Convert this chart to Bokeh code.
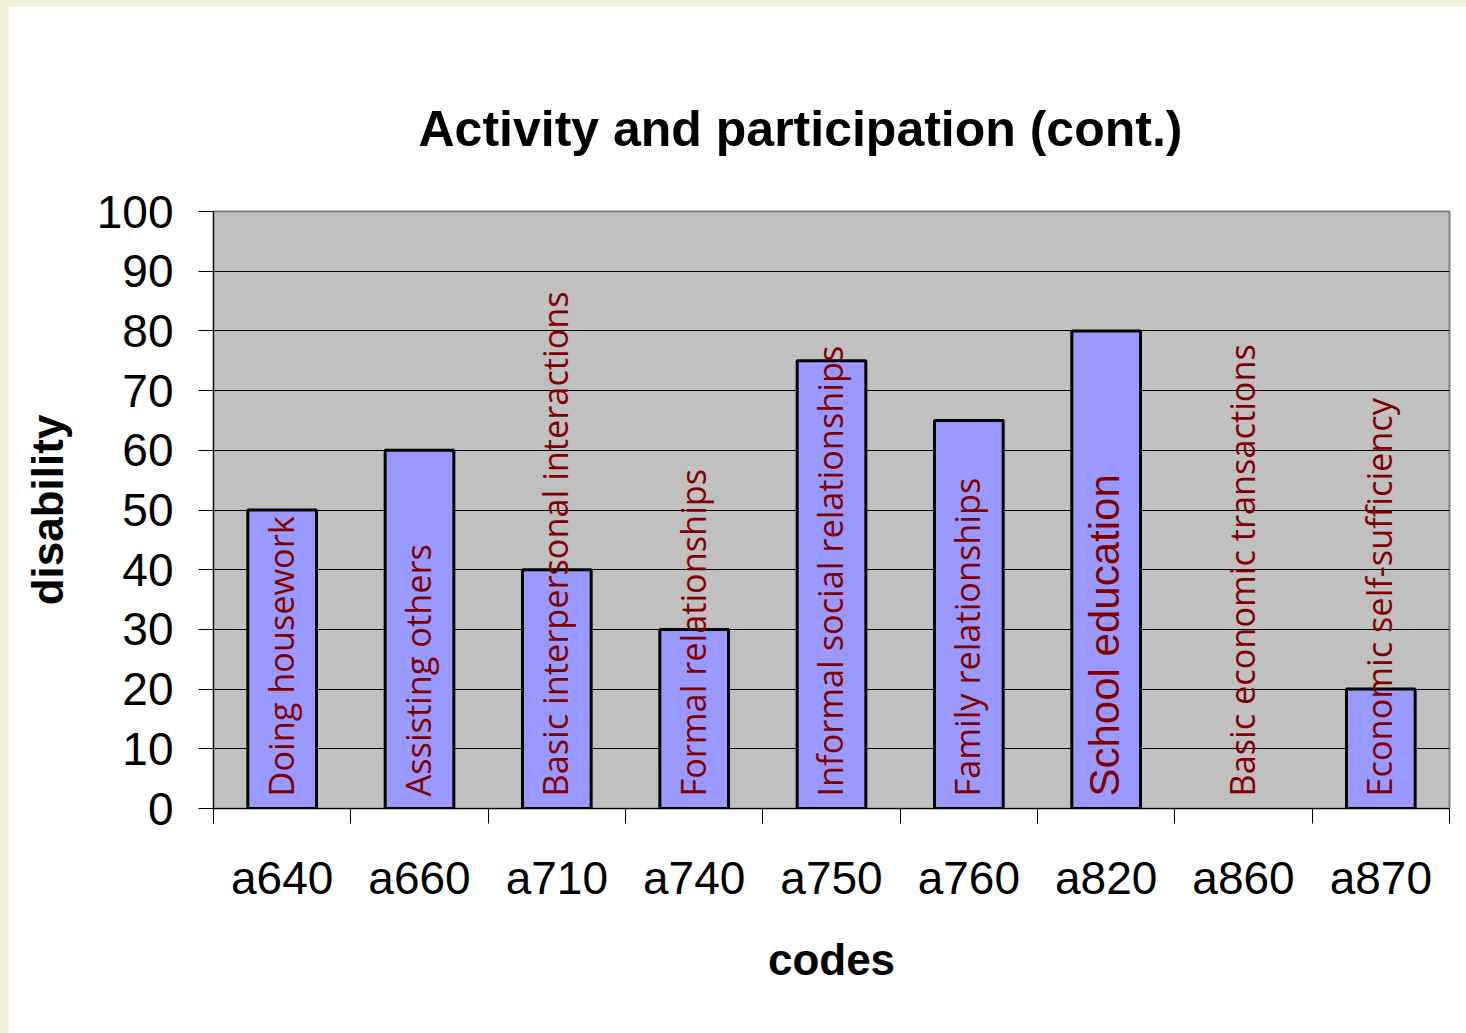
import math
from bokeh.plotting import figure
from bokeh.models import (ColumnDataSource, FixedTicker, Range1d,
                          Title, LinearAxis)
from bokeh.embed import file_html
from bokeh.resources import INLINE
from bokeh.core.properties import value
from jinja2 import Template

# ---- data ----
codes = ["a640", "a660", "a710", "a740", "a750", "a760", "a820", "a860", "a870"]
disability = [50, 60, 40, 30, 75, 65, 80, 0, 20]
descriptions = ["Doing housework", "Assisting others",
                "Basic interpersonal interactions", "Formal relationships",
                "Informal social relationships", "Family relationships",
                "School education", "Basic economic transactions",
                "Economic self-sufficiency"]
y_ticks = [0, 10, 20, 30, 40, 50, 60, 70, 80, 90, 100]

AXIS_FONT = "Liberation Sans"

n = len(codes)
centers = [i + 0.5 for i in range(n)]        # category centres on the numeric scale
bounds = [float(i) for i in range(n + 1)]     # category boundaries

p = figure(width=1458, height=1027,
           x_range=Range1d(0, n), y_range=Range1d(0, 100),
           x_axis_location=None, y_axis_location=None,
           output_backend="svg", toolbar_location=None,
           min_border_left=205, min_border_right=17,
           min_border_top=205, min_border_bottom=225)
p.background_fill_color = "#C0C0C0"
p.border_fill_color = "white"
p.outline_line_color = "#808080"
p.outline_line_width = 2

# title
p.add_layout(Title(text="Activity and participation (cont.)", align="left",
                   offset=205, text_font=AXIS_FONT, text_font_size="50px",
                   text_font_style="bold", text_color="black", standoff=109),
             "above")

# y axis
yax = LinearAxis(ticker=FixedTicker(ticks=y_ticks, minor_ticks=[]))
yax.axis_label = "disability"
yax.axis_label_text_font = AXIS_FONT
yax.axis_label_text_font_size = "44px"
yax.axis_label_text_font_style = "bold"
yax.axis_label_text_color = "black"
yax.axis_label_standoff = 22
yax.major_label_text_font = AXIS_FONT
yax.major_label_text_font_size = "46px"
yax.major_label_text_color = "black"
yax.major_label_standoff = 25
yax.major_tick_out = 15
yax.major_tick_in = 0
yax.major_tick_line_color = "black"
yax.minor_tick_line_color = None
yax.axis_line_color = "black"
p.add_layout(yax, "left")

# x axis: labels at category centres, tick marks at category boundaries
xax = LinearAxis(ticker=FixedTicker(ticks=centers, minor_ticks=bounds))
xax.major_label_overrides = {c: code for c, code in zip(centers, codes)}
xax.major_tick_out = 0
xax.major_tick_in = 0
xax.major_tick_line_color = None
xax.minor_tick_out = 15
xax.minor_tick_in = 0
xax.minor_tick_line_color = "black"
xax.minor_tick_line_width = 1
xax.axis_line_color = "black"
xax.major_label_text_font = AXIS_FONT
xax.major_label_text_font_size = "46px"
xax.major_label_text_color = "black"
xax.major_label_standoff = 28
xax.axis_label = "codes"
xax.axis_label_text_font = AXIS_FONT
xax.axis_label_text_font_size = "44px"
xax.axis_label_text_font_style = "bold"
xax.axis_label_text_color = "black"
xax.axis_label_standoff = 28
p.add_layout(xax, "below")

p.xgrid.visible = False
p.ygrid.ticker = FixedTicker(ticks=y_ticks, minor_ticks=[])
p.ygrid.grid_line_color = "black"
p.ygrid.grid_line_width = 1

# bars (skip empty values)
bar_x = [c for c, v in zip(centers, disability) if v > 0]
bar_vals = [v for v in disability if v > 0]
p.vbar(x=bar_x, top=bar_vals, bottom=0, width=0.5,
       fill_color="#9999FF", line_color="black", line_width=3)

# rotated description labels
sizes = ["42px" if c == "a820" else "34.3px" for c in codes]
fonts = ["Liberation Sans" if c == "a820" else "Open Sans" for c in codes]
src = ColumnDataSource(dict(x=centers, y=[0] * n, text=descriptions,
                            size=sizes, font=fonts))
p.text(x="x", y="y", text="text", source=src, angle=math.pi / 2,
       text_align="left", text_baseline="middle", y_offset=-12, x_offset=-2,
       text_font="font", text_font_size="size",
       text_color="#800000")

template = Template("""{% extends base %}
{% block preamble %}<style>html, body { background-color: #F1EFD6 !important; } body { margin: 6px 0 0 8px !important; padding: 0 !important; overflow: hidden !important; }</style>{% endblock %}""")

open("out.html", "w").write(file_html(p, INLINE, template=template))
